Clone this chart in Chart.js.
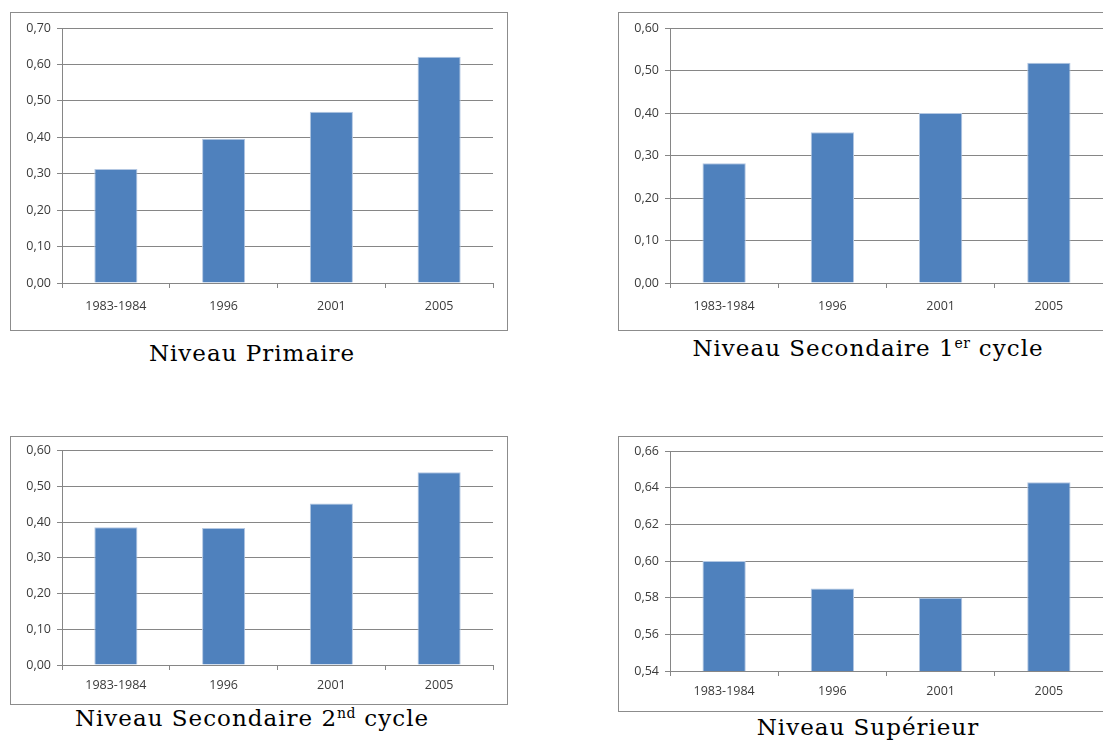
<!DOCTYPE html>
<html>
<head>
<meta charset="utf-8">
<script src="https://cdn.jsdelivr.net/npm/chart.js@4.4.1/dist/chart.umd.min.js"></script>
<style>
  html, body { margin:0; padding:0; background:#fff; overflow:hidden; width:1103px; height:740px; }
  .box { position:absolute; border:1px solid #8c8c8c; box-sizing:border-box; background:#fff; overflow:hidden; }
  .box canvas { display:block; }
  .cap { position:absolute; font-family:"DejaVu Serif", serif; font-size:23px; line-height:23px; letter-spacing:1px; color:#000; text-align:center; white-space:nowrap; }
  .cap sup { font-size:14px; vertical-align:8px; letter-spacing:0.5px; line-height:0; }
</style>
</head>
<body>
<div class="box" id="b1" style="left:10px; top:12px; width:498px; height:319px;"><canvas id="c1" width="496" height="317"></canvas></div>
<div class="box" id="b2" style="left:618px; top:12px; width:500px; height:319px;"><canvas id="c2" width="498" height="317"></canvas></div>
<div class="box" id="b3" style="left:10px; top:436px; width:498px; height:269px;"><canvas id="c3" width="496" height="267"></canvas></div>
<div class="box" id="b4" style="left:618px; top:436px; width:500px; height:276px;"><canvas id="c4" width="498" height="274"></canvas></div>

<div class="cap" style="left:52px; width:400px; top:342px;">Niveau Primaire</div>
<div class="cap" style="left:668px; width:400px; top:337px;">Niveau Secondaire 1<sup>er</sup> cycle</div>
<div class="cap" style="left:52px; width:400px; top:707px;">Niveau Secondaire 2<sup>nd</sup> cycle</div>
<div class="cap" style="left:668px; width:400px; top:716px;">Niveau Supérieur</div>

<script>
// ---- data ----
const categories = ['1983-1984', '1996', '2001', '2005'];
const primaire = [0.313, 0.396, 0.470, 0.621];
const secondaire1 = [0.282, 0.355, 0.400, 0.518];
const secondaire2 = [0.385, 0.383, 0.452, 0.539];
const superieur = [0.600, 0.585, 0.580, 0.643];
// y-axis ranges: [min, max, step]
const primaireAxis = [0, 0.70, 0.10];
const secondaire1Axis = [0, 0.60, 0.10];
const secondaire2Axis = [0, 0.60, 0.10];
const superieurAxis = [0.54, 0.66, 0.02];

const BAR = '#4f81bd';
const GRID = '#868686';
const TXT = '#3a3a3a';
const FONT = { family: 'Open Sans', size: 12.5 };

function makeChart(id, values, axis, geom) {
  const ctx = document.getElementById(id);
  return new Chart(ctx, {
    type: 'bar',
    data: {
      labels: categories,
      datasets: [{
        data: values,
        backgroundColor: BAR,
        borderColor: '#b3c7e2',
        borderWidth: 1,
        borderSkipped: 'bottom',
        categoryPercentage: 1.0,
        barPercentage: 0.4
      }]
    },
    options: {
      responsive: false,
      animation: false,
      events: [],
      layout: { padding: { top: geom.top, right: geom.right, left: 0, bottom: 0 } },
      plugins: { legend: { display: false }, tooltip: { enabled: false }, title: { display: false } },
      scales: {
        x: {
          grid: { offset: true, drawOnChartArea: false, drawTicks: true, tickLength: 5, color: GRID },
          border: { display: true, color: GRID, width: 1 },
          ticks: { font: FONT, color: TXT, padding: geom.xpad, maxRotation: 0 },
          afterFit: s => { s.width = s.width; s.height = geom.xh; }
        },
        y: {
          min: axis[0], max: axis[1],
          grid: { color: GRID, tickLength: 5, drawTicks: true },
          border: { display: true, color: GRID, width: 1 },
          ticks: {
            stepSize: axis[2], font: FONT, color: TXT, padding: 6,
            callback: v => Number(v).toFixed(2).replace('.', ',')
          },
          afterFit: s => { s.width = 51; }
        }
      }
    }
  });
}

makeChart('c1', primaire, primaireAxis, { top: 15, right: 14, xh: 47, xpad: 11 });
makeChart('c2', secondaire1, secondaire1Axis, { top: 15, right: 14, xh: 47, xpad: 11 });
makeChart('c3', secondaire2, secondaire2Axis, { top: 13, right: 14, xh: 39, xpad: 8 });
makeChart('c4', superieur, superieurAxis, { top: 14, right: 14, xh: 40, xpad: 8 });
</script>
</body>
</html>
